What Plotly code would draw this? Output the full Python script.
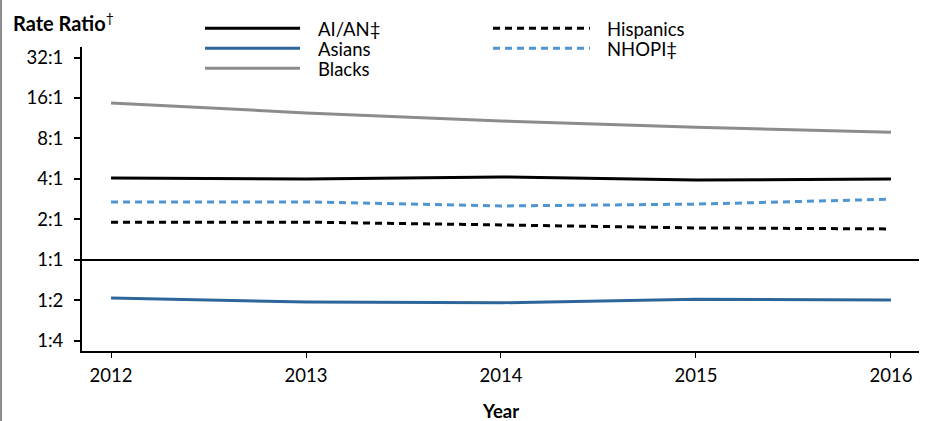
import math
import plotly.graph_objects as go

years = [2012, 2013, 2014, 2015, 2016]
aian = [4.07, 4.0, 4.14, 3.93, 4.0]
asians = [0.52, 0.487, 0.48, 0.51, 0.503]
blacks = [14.7, 12.4, 10.8, 9.7, 8.9]
hispanics = [1.91, 1.91, 1.82, 1.73, 1.70]
nhopi = [2.7, 2.7, 2.52, 2.6, 2.83]

tick_vals = [0.25, 0.5, 1, 2, 4, 8, 16, 32]
tick_text = ["1:4", "1:2", "1:1", "2:1", "4:1", "8:1", "16:1", "32:1"]

series = [
    ("AI/AN‡", aian, "#000000", "solid"),
    ("Asians", asians, "#2f6699", "solid"),
    ("Blacks", blacks, "#8c8c8c", "solid"),
    ("Hispanics", hispanics, "#000000", "7px,5px"),
    ("NHOPI‡", nhopi, "#4f95d1", "7px,5px"),
]

FONT = "Lato"
W, H = 928, 421
L, R, T, B = 82, 9, 47, 70
pw, ph = W - L - R, H - T - B

def px(x):
    return (x - L) / pw

def py(y):
    return (H - B - y) / ph

fig = go.Figure()
for name, vals, color, dash in series:
    fig.add_trace(go.Scatter(x=years, y=vals, mode="lines", name=name,
                             line=dict(color=color, width=3, dash=dash),
                             showlegend=False))

shapes = []
annotations = []
# reference line at 1:1
shapes.append(dict(type="line", xref="paper", yref="y", x0=0, x1=1, y0=1, y1=1,
                   line=dict(color="black", width=2)))
# left border
shapes.append(dict(type="line", xref="paper", yref="paper", x0=px(1), x1=px(1),
                   y0=py(0), y1=py(H), line=dict(color="#8c8c8c", width=2)))

legend_pos = [(205, 300, 319, 28.3), (205, 300, 319, 48.3), (205, 300, 319, 68.3),
              (493, 590, 608, 28.3), (493, 590, 608, 48.3)]
for (name, vals, color, dash), (x0, x1, tx, yy) in zip(series, legend_pos):
    shapes.append(dict(type="line", xref="paper", yref="paper", x0=px(x0), x1=px(x1),
                       y0=py(yy), y1=py(yy), line=dict(color=color, width=3, dash=dash)))
    annotations.append(dict(text=name, xref="paper", yref="paper", x=px(tx - 1), y=py(yy + 1),
                            xanchor="left", yanchor="middle", align="left", showarrow=False,
                            borderpad=0, borderwidth=0,
                            font=dict(family=FONT, size=18.5, color="black")))

annotations.append(dict(text="<b>Rate Ratio</b><sup>†</sup>", xref="paper", yref="paper",
                        x=px(11), y=py(22), xanchor="left", yanchor="middle",
                        showarrow=False, font=dict(family=FONT, size=20, color="black")))
annotations.append(dict(text="<b>Year</b>", xref="paper", yref="paper",
                        x=px(500), y=py(411), xanchor="center", yanchor="middle",
                        showarrow=False, font=dict(family=FONT, size=18.5, color="black")))

fig.update_layout(
    width=W, height=H,
    margin=dict(l=L, r=R, t=T, b=B, autoexpand=False),
    paper_bgcolor="white", plot_bgcolor="white",
    font=dict(family=FONT, size=18.5, color="black"),
    shapes=shapes, annotations=annotations,
    xaxis=dict(range=[2011.851, 2016.144], tickvals=years, ticktext=[str(y) for y in years],
               automargin=False,
               showgrid=False, zeroline=False, showline=True, linecolor="black", linewidth=2,
               ticks="outside", ticklen=5, tickwidth=1, tickcolor="black", ticklabelstandoff=2),
    yaxis=dict(type="log", range=[math.log10(2 ** -2.25), math.log10(2 ** 5.26)],
               tickvals=tick_vals, ticktext=tick_text, ticklabelstandoff=7, automargin=False,
               showgrid=False, zeroline=False, showline=True, linecolor="black", linewidth=2,
               ticks="outside", ticklen=6, tickwidth=1.5, tickcolor="black"),
)

fig.write_html("out.html", post_script="document.body.style.margin='0';",
               config={"displayModeBar": False})
